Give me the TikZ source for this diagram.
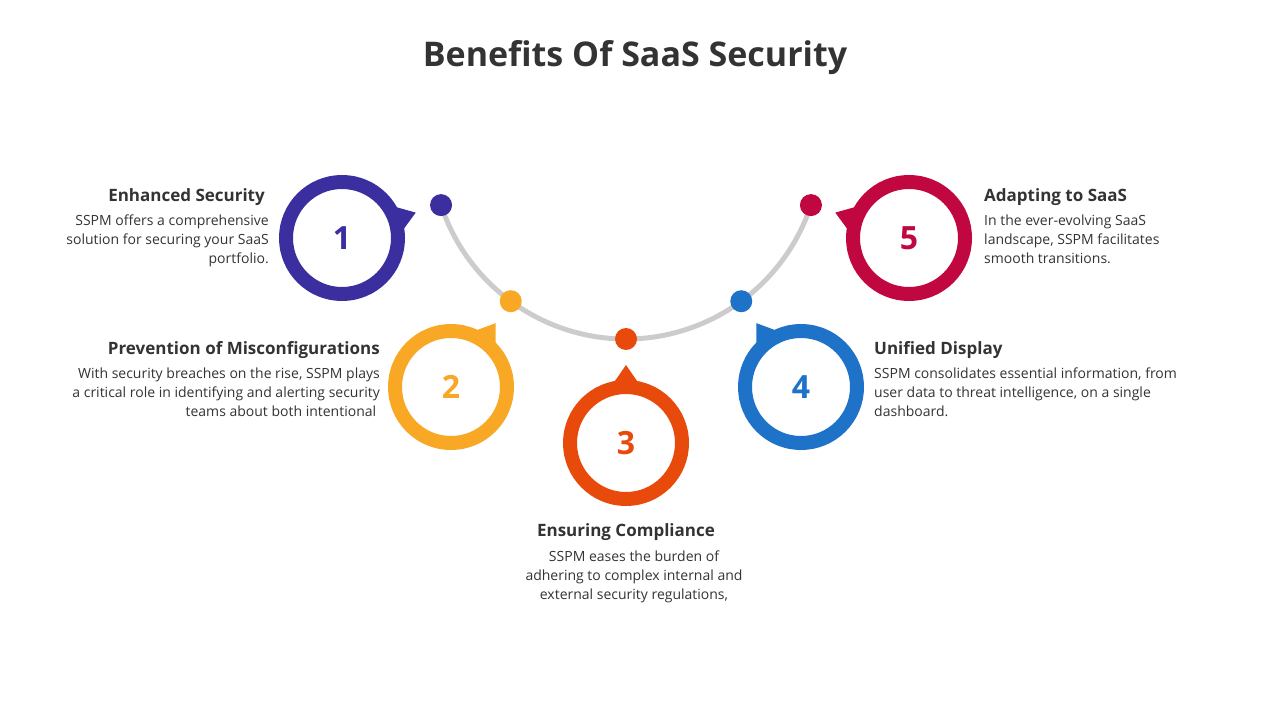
\documentclass[tikz,border=0pt]{standalone}
\usepackage{fontspec}
\setmainfont{Open Sans}
\usetikzlibrary{calc}
\definecolor{cpurple}{HTML}{3B2E9E}
\definecolor{corange}{HTML}{F9A825}
\definecolor{cred}{HTML}{E84A0C}
\definecolor{cblue}{HTML}{1E72C8}
\definecolor{ccrimson}{HTML}{C0073F}
\definecolor{ctext}{HTML}{333333}
\tikzset{
  heading/.style={inner sep=0pt, text=ctext, font=\fontsize{17}{20}\selectfont\bfseries},
  body/.style={inner sep=0pt, text=ctext, font=\fontsize{14}{19}\selectfont},
  numtxt/.style={font=\fontsize{32}{36}\selectfont\bfseries}
}
\newcommand{\ring}[4]{% name, center, colour, tail angle
  \coordinate (#1) at #2;
  \draw[#3, line width=14pt] (#1) circle (56);
  \fill[#3] ($(#1)+(#4-13:60)$) -- ($(#1)+(#4:78)$) -- ($(#1)+(#4+13:60)$) -- cycle;
}
\begin{document}
\begin{tikzpicture}[x=1pt,y=-1pt]
\useasboundingbox (0,0) rectangle (1280,720);
\node[text=ctext, font=\fontsize{34}{40}\selectfont\bfseries] (title) at (635,58) {Benefits Of SaaS Security};
% arc
\coordinate (ctr) at (626,144.3);
\draw[black!20, line width=5pt] (ctr) ++(161.8:194.7) arc[start angle=161.8, end angle=18.2, radius=194.7];
\foreach \n/\a/\c in {1/161.8/cpurple, 2/126.3/corange, 3/90/cred, 4/53.7/cblue, 5/18.2/ccrimson}
  \fill[\c] (ctr) ++(\a:194.7) circle (11) coordinate (d\n);
% rings
\ring{r1}{(342,238)}{cpurple}{-19}
\ring{r2}{(451,387)}{corange}{-55}
\ring{r3}{(626,443)}{cred}{-90}
\ring{r4}{(801,387)}{cblue}{-125}
\ring{r5}{(909,238)}{ccrimson}{-161}
\node[numtxt, text=cpurple] (n1) at (r1) {1};
\node[numtxt, text=corange] (n2) at (r2) {2};
\node[numtxt, text=cred] (n3) at (r3) {3};
\node[numtxt, text=cblue] (n4) at (r4) {4};
\node[numtxt, text=ccrimson] (n5) at (r5) {5};
% texts
\node[heading, anchor=east] (h1) at (265,197) {Enhanced Security};
\node[body, anchor=north east, align=right] (b1) at (269,215) {SSPM offers a comprehensive\\solution for securing your SaaS\\portfolio.};
\node[heading, anchor=east] (h2) at (380,350) {Prevention of Misconfigurations};
\node[body, anchor=north east, align=right] (b2) at (380,368) {With security breaches on the rise, SSPM plays\\a critical role in identifying and alerting security\\teams about both intentional\ \ };
\node[heading] (h3) at (626,532) {Ensuring Compliance};
\node[body, anchor=north, align=center] (b3) at (634,551) {SSPM eases the burden of\\adhering to complex internal and\\external security regulations,};
\node[heading, anchor=west] (h4) at (874,350) {Unified Display};
\node[body, anchor=north west, align=left] (b4) at (874,368) {SSPM consolidates essential information, from\\user data to threat intelligence, on a single\\dashboard.};
\node[heading, anchor=west] (h5) at (984,197) {Adapting to SaaS};
\node[body, anchor=north west, align=left] (b5) at (984,215) {In the ever-evolving SaaS\\landscape, SSPM facilitates\\smooth transitions.};
\end{tikzpicture}
\end{document}
